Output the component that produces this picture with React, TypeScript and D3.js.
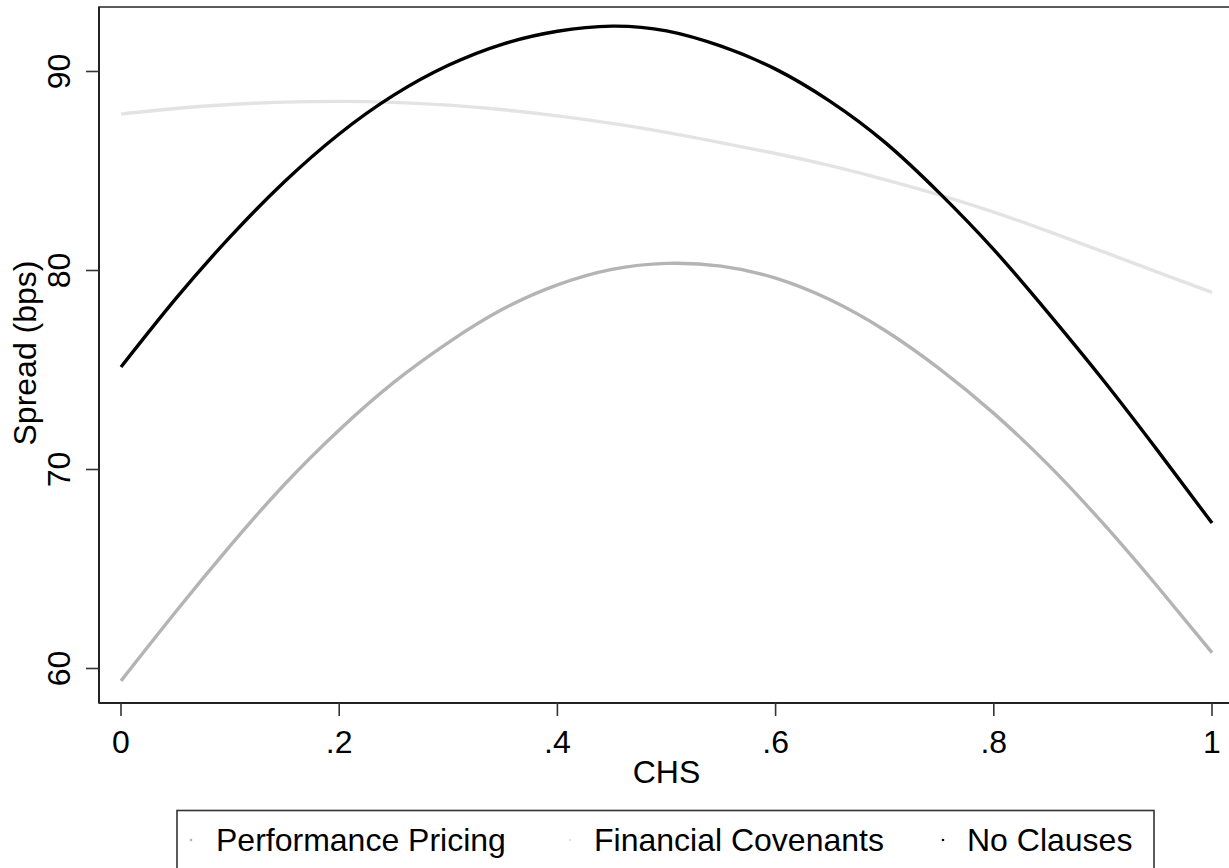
import React from "react";
import * as d3 from "d3";

// CHS grid (x values)
const chs: number[] = [0, 0.05, 0.1, 0.15, 0.2, 0.25, 0.3, 0.35, 0.4, 0.45, 0.5, 0.55, 0.6, 0.65, 0.7, 0.75, 0.8, 0.85, 0.9, 0.95, 1];

// Series values (Spread, bps)
const performancePricing: number[] = [59.38, 62.84, 66.16, 69.26, 71.99, 74.38, 76.38, 78.06, 79.28, 80.06, 80.36, 80.22, 79.62, 78.53, 77.0, 75.07, 72.82, 70.23, 67.3, 64.12, 60.8];
const financialCovenants: number[] = [87.86, 88.14, 88.34, 88.46, 88.5, 88.45, 88.31, 88.08, 87.77, 87.39, 86.94, 86.42, 85.88, 85.27, 84.57, 83.8, 82.93, 81.97, 80.95, 79.92, 78.9];
const noClauses: number[] = [75.15, 78.57, 81.69, 84.47, 86.86, 88.81, 90.31, 91.38, 92.02, 92.28, 92.04, 91.27, 90.12, 88.5, 86.45, 83.9, 81.05, 77.86, 74.51, 70.96, 67.31];

const seriesNames: string[] = ["Performance Pricing", "Financial Covenants", "No Clauses"];
const seriesColors: string[] = ["#b4b4b4", "#e3e3e3", "#000000"];

const xTicks: number[] = [0, 0.2, 0.4, 0.6, 0.8, 1];
const xTickLabels: string[] = ["0", ".2", ".4", ".6", ".8", "1"];
const yTicks: number[] = [60, 70, 80, 90];

const FONT = "'Liberation Sans', Arial, sans-serif";

export default function App() {
  const W = 1229;
  const H = 868;
  const x = d3.scaleLinear().domain([0, 1]).range([121, 1212]);
  const y = d3.scaleLinear().domain([60, 90]).range([668.5, 71.5]);

  const allSeries = [performancePricing, financialCovenants, noClauses];
  const line = d3
    .line<number>()
    .x((_, i) => x(chs[i]))
    .y((d) => y(d))
    .curve(d3.curveNatural);

  const plotLeft = 99;
  const plotTop = 7;
  const plotBottom = 703;

  const legendX = [191, 570, 943];
  const legendTextX = [216, 594, 967];

  return (
    <svg
      width={W}
      height={H}
      style={{ position: "absolute", left: 0, top: 0, background: "#fff" }}
      fontFamily={FONT}
    >
      <rect x={0} y={0} width={W} height={H} fill="#fff" />
      {/* plot region frame */}
      <rect x={plotLeft} y={plotTop} width={1240 - plotLeft} height={plotBottom - plotTop} fill="none" stroke="#333" strokeWidth={1.6} />

      {/* lines: PP, FC, NC */}
      {allSeries.map((s, i) => (
        <path key={i} d={line(s) || ""} fill="none" stroke={seriesColors[i]} strokeWidth={3.4} strokeLinejoin="round" />
      ))}

      {/* y axis */}
      <line x1={plotLeft} x2={plotLeft} y1={plotTop} y2={plotBottom} stroke="#222" strokeWidth={2} />
      {yTicks.map((t) => (
        <g key={t}>
          <line x1={86} x2={plotLeft} y1={y(t)} y2={y(t)} stroke="#333" strokeWidth={1.6} />
          <text
            transform={`translate(70,${y(t)}) rotate(-90)`}
            textAnchor="middle"
            fontSize={32}
            fill="#000"
          >
            {t}
          </text>
        </g>
      ))}
      <text transform={`translate(36,353) rotate(-90)`} textAnchor="middle" fontSize={32} fill="#000">
        Spread (bps)
      </text>

      {/* x axis */}
      <line x1={plotLeft} x2={1240} y1={plotBottom} y2={plotBottom} stroke="#222" strokeWidth={2} />
      {xTicks.map((t, i) => (
        <g key={t}>
          <line x1={x(t)} x2={x(t)} y1={plotBottom} y2={716} stroke="#333" strokeWidth={1.6} />
          <text x={x(t)} y={753} textAnchor="middle" fontSize={32} fill="#000">
            {xTickLabels[i]}
          </text>
        </g>
      ))}
      <text x={666.5} y={783} textAnchor="middle" fontSize={32} fill="#000">
        CHS
      </text>

      {/* legend */}
      <rect x={177} y={810.5} width={977} height={80} fill="#fff" stroke="#333" strokeWidth={1.6} />
      {seriesNames.map((n, i) => (
        <g key={n}>
          <circle cx={legendX[i]} cy={840} r={1.3} fill={seriesColors[i]} />
          <text x={legendTextX[i]} y={851} fontSize={32} fill="#000">
            {n}
          </text>
        </g>
      ))}
    </svg>
  );
}
